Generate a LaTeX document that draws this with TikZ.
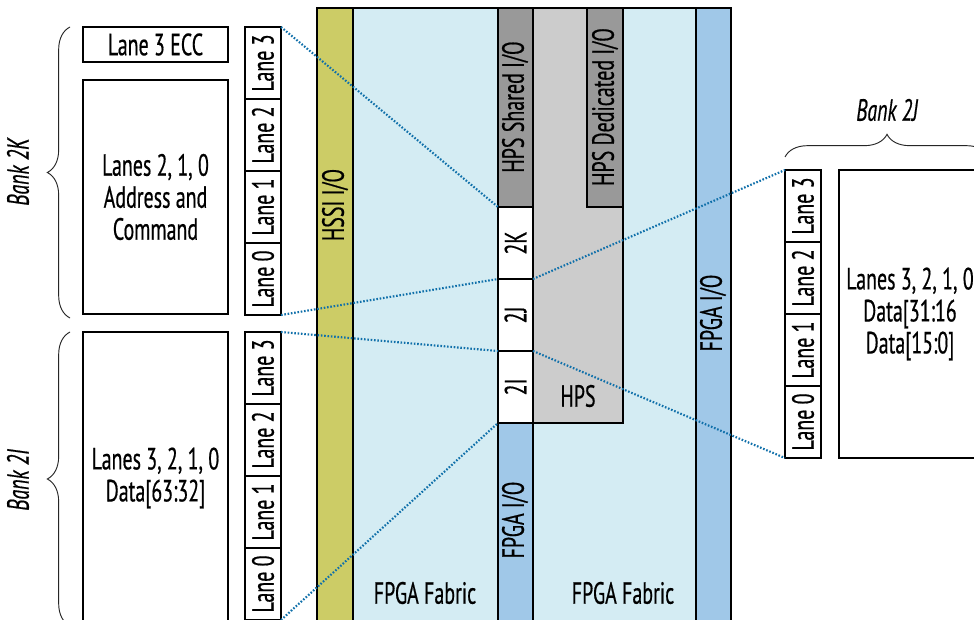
\documentclass[tikz,border=0pt]{standalone}
\usepackage{fontspec}
\setmainfont{PT Sans}[FakeStretch=0.65,FakeBold=0.5]
\usetikzlibrary{positioning,decorations.pathreplacing}
\definecolor{hssiYellow}{RGB}{204,204,102}
\definecolor{fabricBlue}{RGB}{212,236,243}
\definecolor{fpgaBlue}{RGB}{160,200,232}
\definecolor{hpsGray}{RGB}{204,204,204}
\definecolor{hpsDark}{RGB}{153,153,153}
\definecolor{linkBlue}{RGB}{16,112,170}
\newcommand{\px}{0.75pt}

\begin{document}
\begin{tikzpicture}[x=0.75pt,y=-0.75pt,
  txt/.style={font=\fontsize{23}{24}\selectfont, align=center},
  cell/.style={txt, draw, line width=0.8pt, fill=white, inner sep=0pt, outer sep=0pt, anchor=north west},
  lane/.style={cell, minimum width=36*\px, minimum height=72*\px},
  iobank/.style={cell, minimum width=35*\px, minimum height=72*\px},
  link/.style={linkBlue, line width=1.6pt, dash pattern=on 1.2pt off 1.3pt},
  bracestyle/.style={decorate, decoration={brace, amplitude=17pt}, line width=0.7pt, black!85},
  bank/.style={font=\fontsize{23}{24}\selectfont\itshape}
]
\clip (0,0) rectangle (974,620);
\fill[white] (0,0) rectangle (974,620);

% device floorplan
\node[cell, fill=fabricBlue, minimum width=414*\px, minimum height=620*\px] (fabric) at (317,8) {};
\node[cell, fill=hssiYellow, minimum width=36*\px, minimum height=620*\px] (hssi) at (317,8) {};
\node[cell, fill=fpgaBlue, minimum width=35*\px, minimum height=620*\px] (fpgaR) at (696,8) {};
\node[cell, fill=hpsGray, minimum width=90*\px, minimum height=415*\px] (hps) at (533,8) {};
\node[cell, fill=hpsDark, minimum width=35*\px, minimum height=199*\px] (hpsSh) at (498,8) {};
\node[cell, fill=hpsDark, minimum width=36*\px, minimum height=199*\px] (hpsDed) at (587,8) {};
\node[iobank] (b2K) at (498,207) {\rotatebox{90}{2K}};
\node[iobank, below=0pt of b2K] (b2J) {\rotatebox{90}{2J}};
\node[iobank, below=0pt of b2J] (b2I) {\rotatebox{90}{2I}};
\node[cell, fill=fpgaBlue, below=0pt of b2I, minimum width=35*\px, minimum height=200*\px] (fpgaM) {};

\node[txt, rotate=90] (hssiTxt) at (335,205) {HSSI I/O};
\node[txt, rotate=90] (hpsShTxt) at (515,107) {HPS Shared I/O};
\node[txt, rotate=90] (hpsDedTxt) at (605,107) {HPS Dedicated I/O};
\node[txt, rotate=90] (fpgaMTxt) at (515,520) {FPGA I/O};
\node[txt, rotate=90] (fpgaRTxt) at (713,313) {FPGA I/O};
\node[txt] (hpsTxt) at (578,396) {HPS};
\node[txt] (fabTxtL) at (425,593) {FPGA Fabric};
\node[txt] (fabTxtR) at (623,593) {FPGA Fabric};

% bank 2K
\node[cell, minimum width=145*\px, minimum height=35*\px] (ecc) at (83,27) {Lane 3 ECC};
\node[cell, minimum width=145*\px, minimum height=234*\px] (addrK) at (83,80) {Lanes 2, 1, 0\\Address and\\Command};
\node[lane] (k3) at (245,27) {\rotatebox{90}{Lane 3}};
\foreach \n/\p in {2/3,1/2,0/1}
  \node[lane, below=0pt of k\p] (k\n) {\rotatebox{90}{Lane \n}};
\draw[bracestyle] (70,318) -- (70,27);
\node[bank, rotate=90] (bankK) at (18,172) {Bank 2K};

% bank 2I
\node[cell, minimum width=145*\px, minimum height=292*\px] (dataI) at (83,332) {Lanes 3, 2, 1, 0\\Data[63:32]};
\node[lane] (i3) at (245,332) {\rotatebox{90}{Lane 3}};
\foreach \n/\p in {2/3,1/2,0/1}
  \node[lane, below=0pt of i\p] (i\n) {\rotatebox{90}{Lane \n}};
\draw[bracestyle] (70,626) -- (70,332);
\node[bank, rotate=90] (bankI) at (18,480) {Bank 2I};

% bank 2J
\node[lane] (j3) at (785,170) {\rotatebox{90}{Lane 3}};
\foreach \n/\p in {2/3,1/2,0/1}
  \node[lane, below=0pt of j\p] (j\n) {\rotatebox{90}{Lane \n}};
\node[cell, minimum width=142*\px, minimum height=288*\px] (dataJ) at (839,170) {Lanes 3, 2, 1, 0\\Data[31:16\\Data[15:0]};
\draw[bracestyle] (785,157) -- (989,157);
\node[bank] (bankJ) at (887,110) {Bank 2J};

% bank to lane mapping
\draw[link] (k3.north east) -- (b2K.north west);
\draw[link] (k0.south east) -- (b2J.north west);
\draw[link] (i3.north east) -- (b2I.north west);
\draw[link] (i0.south east) -- (b2I.south west);
\draw[link] (b2J.north east) -- (j3.north west);
\draw[link] (b2J.south east) -- (j0.south west);
\end{tikzpicture}
\end{document}
